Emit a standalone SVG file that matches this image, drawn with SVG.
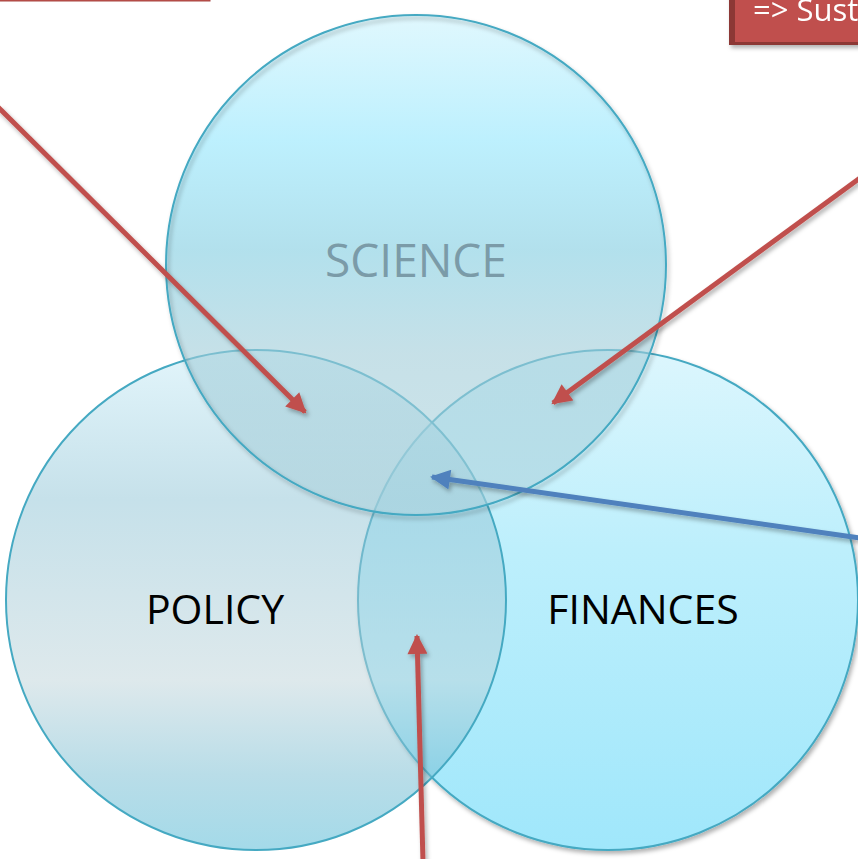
<svg xmlns="http://www.w3.org/2000/svg" width="858" height="859" viewBox="0 0 858 859">
<style>
.circ{stroke:#45a9c2;stroke-width:2}
.lbl{font-family:"Open Sans","Liberation Sans",sans-serif;text-anchor:middle}
.red{stroke:#c0504d;stroke-width:5;fill:none;marker-end:url(#ar)}
.blue{stroke:#4f81bd;stroke-width:5;fill:none;marker-end:url(#ab)}
</style>
<defs>
<linearGradient id="gS" x1="0" y1="0" x2="0" y2="1">
<stop offset="0" stop-color="#cbf3fd"/>
<stop offset="0.25" stop-color="#91e6fd"/>
<stop offset="0.47" stop-color="#7fcce0"/>
<stop offset="0.68" stop-color="#a0ccd8"/>
<stop offset="1" stop-color="#aed3dd"/>
</linearGradient>
<linearGradient id="gP" x1="0" y1="0" x2="0" y2="1">
<stop offset="0" stop-color="#c5ebf7"/>
<stop offset="0.3" stop-color="#8dc3d5"/>
<stop offset="0.66" stop-color="#bdd3d9"/>
<stop offset="0.85" stop-color="#73bbd1"/>
<stop offset="1" stop-color="#49b5d3"/>
</linearGradient>
<linearGradient id="gF" x1="0" y1="0" x2="0" y2="1">
<stop offset="0" stop-color="#dcf6fd"/>
<stop offset="0.4" stop-color="#bdeffc"/>
<stop offset="1" stop-color="#a0e7fb"/>
</linearGradient>
<filter id="sh" x="-20%" y="-20%" width="140%" height="140%">
<feDropShadow dx="2" dy="3" stdDeviation="2" flood-color="#000" flood-opacity="0.3"/>
</filter>
<marker id="ar" viewBox="0 0 10 10" refX="9" refY="5" markerWidth="4.4" markerHeight="4" orient="auto" markerUnits="strokeWidth">
<path d="M0,0 L10,5 L0,10 Z" fill="#c0504d"/>
</marker>
<marker id="ab" viewBox="0 0 10 10" refX="9" refY="5" markerWidth="4.4" markerHeight="4" orient="auto" markerUnits="strokeWidth">
<path d="M0,0 L10,5 L0,10 Z" fill="#4f81bd"/>
</marker>
</defs>
<g id="box-left">
<rect x="-10" y="-40" width="220" height="41" fill="#c0504d" stroke="#a84643" stroke-width="1"/>
</g>
<g id="box-right" filter="url(#sh)">
<rect x="729" y="-10" width="140" height="55" fill="#8c3836"/>
<rect x="735" y="-10" width="134" height="52" fill="#c0504d"/>
<text x="753" y="21" font-family="'Open Sans','Liberation Sans',sans-serif" font-size="31" fill="#ffffff">=&gt; Sust</text>
</g>
<g id="finances">
<circle class="circ" cx="608" cy="600" r="250" fill="url(#gF)" filter="url(#sh)"/>
</g>
<g id="policy">
<circle cx="256" cy="600" r="250" fill="url(#gP)" fill-opacity="0.5"/>
<circle class="circ" cx="256" cy="600" r="250" fill="none"/>
</g>
<g id="science">
<circle cx="416" cy="265" r="250" fill="url(#gS)" fill-opacity="0.6"/>
<circle class="circ" cx="416" cy="265" r="250" fill="none" filter="url(#sh)"/>
</g>
<g id="labels">
<text class="lbl" x="416" y="277" font-size="46" fill="#7b9ba8">SCIENCE</text>
<text class="lbl" x="215" y="624" font-size="41" fill="#000">POLICY</text>
<text class="lbl" x="643" y="624" font-size="41" fill="#000">FINANCES</text>
</g>
<g id="connectors" filter="url(#sh)">
<line class="red" x1="-2" y1="107" x2="305" y2="412"/>
<line class="red" x1="860" y1="178" x2="553" y2="403"/>
<line class="blue" x1="860" y1="538" x2="432" y2="477"/>
<line class="red" x1="423" y1="862" x2="417" y2="636"/>
</g>
</svg>
